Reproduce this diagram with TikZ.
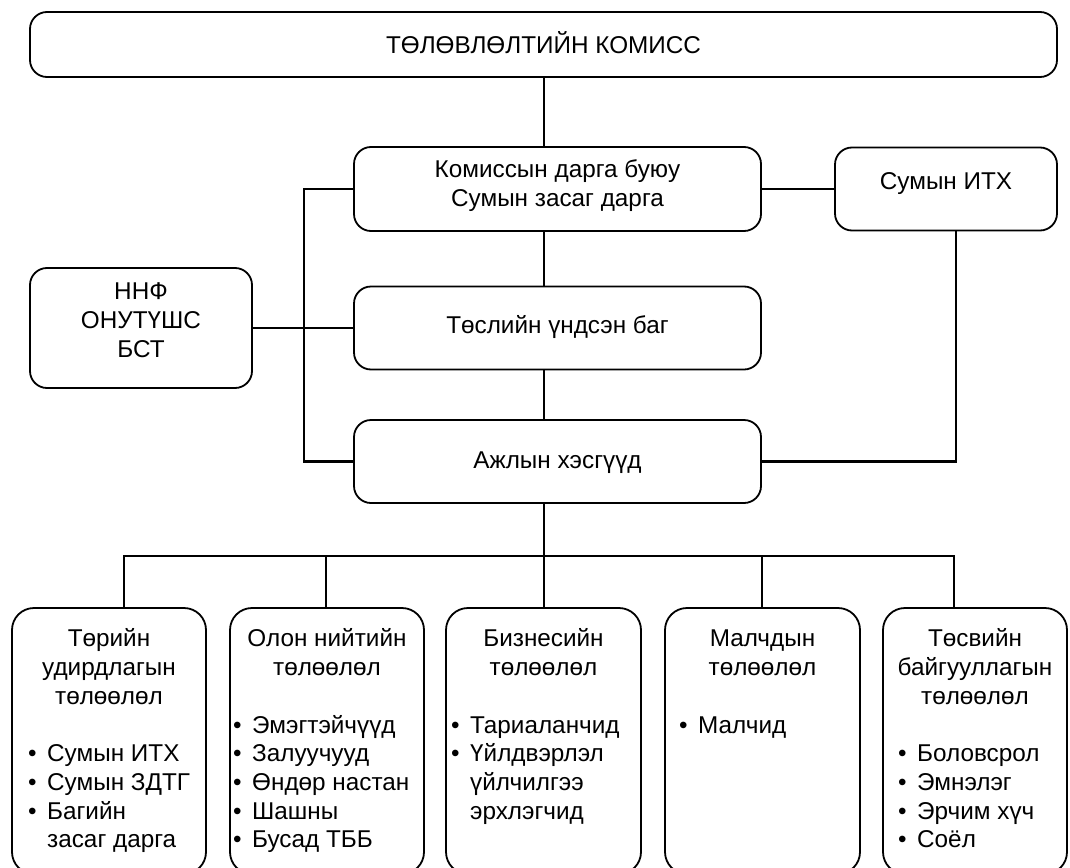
\documentclass[tikz,border=0pt]{standalone}
\usepackage{fontspec}
\setmainfont{Liberation Sans}
\newcommand{\fs}{\fontsize{24.3}{28.7}\selectfont}
\newcommand{\bl}{\makebox[19pt][l]{•}}
\newcommand{\hg}{\hspace*{19pt}}
\newcommand{\st}{\rule{0pt}{24pt}}
\begin{document}
\begin{tikzpicture}[x=1pt,y=-1pt,
  box/.style={draw, line width=1.8pt, rounded corners=17pt, inner sep=0pt},
  bbox/.style={draw, line width=1.8pt, rounded corners=22pt, inner sep=0pt},
  conn/.style={line width=2.4pt},
  txt/.style={font=\fs, inner sep=0pt, align=center},
  lst/.style={font=\fs, inner sep=0pt, align=left, anchor=north west}]
\fill[white] (0,0) rectangle (1070,867);
\useasboundingbox (0,0) rectangle (1070,867);

% boxes
\node[box, minimum width=1027pt, minimum height=65pt] (top) at (543.5,44.5) {};
\node[box, minimum width=407pt, minimum height=84pt] (kom) at (557.5,189) {};
\node[box, minimum width=222pt, minimum height=83pt] (itx) at (946,189) {};
\node[box, minimum width=407pt, minimum height=83pt] (tos) at (557.5,328) {};
\node[box, minimum width=407pt, minimum height=83pt] (ajl) at (557.5,461.5) {};
\node[box, minimum width=222pt, minimum height=120pt] (nnf) at (141,328) {};

\node[bbox, minimum width=194pt, minimum height=266pt] (b1) at (109,741) {};
\node[bbox, minimum width=194pt, minimum height=266pt] (b2) at (327,741) {};
\node[bbox, minimum width=195pt, minimum height=266pt] (b3) at (543.5,741) {};
\node[bbox, minimum width=195pt, minimum height=266pt] (b4) at (762.5,741) {};
\node[bbox, minimum width=184pt, minimum height=266pt] (b5) at (975,741) {};

% texts
\node[txt, anchor=base] (ttop) at (543.5,53.5) {ТӨЛӨВЛӨЛТИЙН КОМИСС};
\node[txt, anchor=north] (tkom) at (557.5,153.5) {\st Комиссын дарга буюу\\Сумын засаг дарга};
\node[txt, anchor=base] (titx) at (946,189.5) {Сумын ИТХ};
\node[txt, anchor=base] (ttos) at (557.5,333.5) {Төслийн үндсэн баг};
\node[txt, anchor=base] (tajl) at (557.5,468.5) {Ажлын хэсгүүд};
\node[txt, anchor=north] (tnnf) at (141,275.5) {\st ННФ\\ОНУТҮШС\\БСТ};

\node[txt, anchor=north] (h1) at (109,622.7) {\st Төрийн\\удирдлагын\\төлөөлөл};
\node[txt, anchor=north] (h2) at (327,622.7) {\st Олон нийтийн\\төлөөлөл};
\node[txt, anchor=north] (h3) at (543.5,622.7) {\st Бизнесийн\\төлөөлөл};
\node[txt, anchor=north] (h4) at (762.5,622.7) {\st Малчдын\\төлөөлөл};
\node[txt, anchor=north] (h5) at (975,622.7) {\st Төсвийн\\байгууллагын\\төлөөлөл};

\node[lst] (l1) at (28,737.5) {\st\bl Сумын ИТХ\\\bl Сумын ЗДТГ\\\bl Багийн\\\hg засаг дарга};
\node[lst] (l2) at (233,708.8) {\st\bl Эмэгтэйчүүд\\\bl Залуучууд\\\bl Өндөр настан\\\bl Шашны\\\bl Бусад ТББ};
\node[lst] (l3) at (451,708.8) {\st\bl Тариаланчид\\\bl Үйлдвэрлэл\\\hg үйлчилгээ\\\hg эрхлэгчид};
\node[lst] (l4) at (679,708.8) {\st\bl Малчид};
\node[lst] (l5) at (898,737.5) {\st\bl Боловсрол\\\bl Эмнэлэг\\\bl Эрчим хүч\\\bl Соёл};

% helper coordinates
\coordinate (spine) at (544,0);
\coordinate (lbus) at (304,0);
\coordinate (rdrop) at (956,0);
\coordinate (bus) at (0,556);
\coordinate (d1) at (124,0);
\coordinate (d2) at (326,0);
\coordinate (d4) at (762,0);
\coordinate (d5) at (954,0);

% connectors
\draw[conn] (top.south -| spine) -- (kom.north -| spine);
\draw[conn] (kom.south -| spine) -- (tos.north -| spine);
\draw[conn] (tos.south -| spine) -- (ajl.north -| spine);
\draw[conn] (kom.east) -- (itx.west);
\draw[conn] (itx.south -| rdrop) |- (ajl.east);
\draw[conn] (kom.west) -- (kom.west -| lbus) |- (ajl.west);
\draw[conn] (nnf.east) -- (tos.west);
\draw[conn] (ajl.south -| spine) -- (b3.north -| spine);
\draw[conn] (b1.north -| d1) |- (bus -| d5) -- (b5.north -| d5);
\draw[conn] (bus -| d2) -- (b2.north -| d2);
\draw[conn] (bus -| d4) -- (b4.north -| d4);
\end{tikzpicture}
\end{document}
